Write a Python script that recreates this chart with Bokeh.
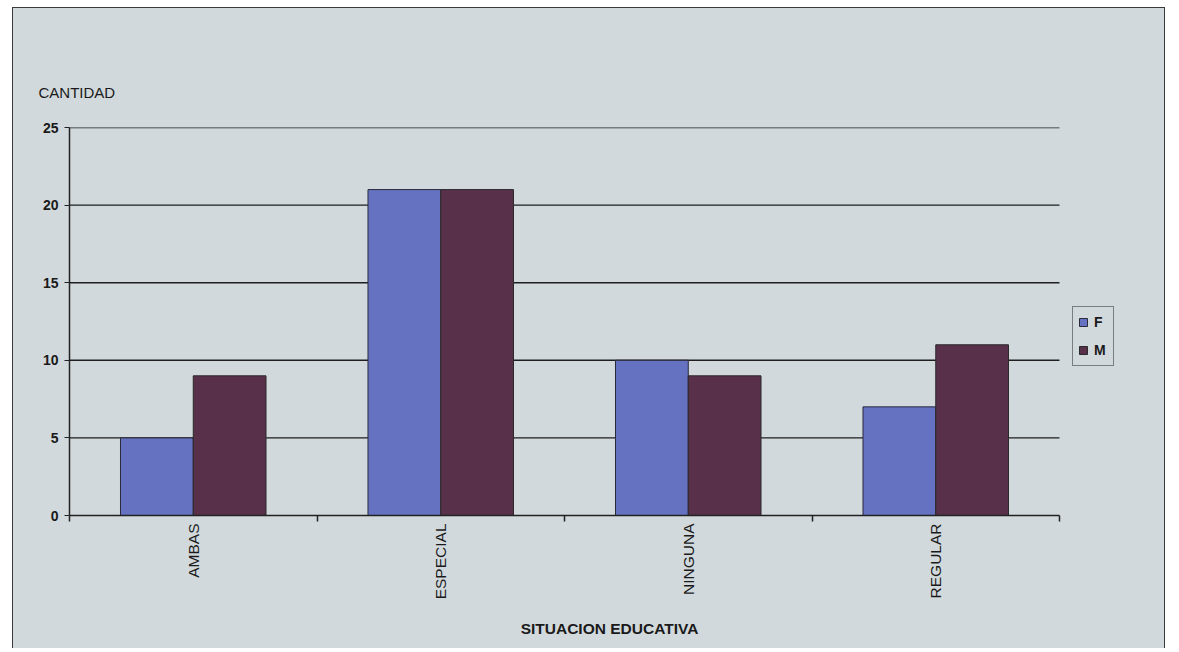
import math
from bokeh.plotting import figure
from bokeh.models import (Range1d, FixedTicker, Legend, LegendItem, ColumnDataSource)
from bokeh.embed import file_html
from bokeh.resources import INLINE

categories = ["AMBAS", "ESPECIAL", "NINGUNA", "REGULAR"]
f_values = [5, 21, 10, 7]
m_values = [9, 21, 9, 11]
y_ticks = [0, 5, 10, 15, 20, 25]

BG = "#d2d9dc"
F_COLOR = "#6572c2"
M_COLOR = "#58304a"
FONT = "Liberation Sans"
INK = "#1a1a1a"

n = len(categories)
idx = list(range(n))
src = ColumnDataSource(dict(
    xf=[i + 0.5 - 0.147 for i in idx],
    xm=[i + 0.5 + 0.147 for i in idx],
    f=f_values, m=m_values))
grid_src = ColumnDataSource(dict(y=y_ticks[1:]))

# the frame extends past the last category to leave room for the legend
x_end = n * (1080.0 / 990.0)

p = figure(width=1153, height=641, output_backend="svg", toolbar_location=None,
           x_range=Range1d(0, x_end), y_range=Range1d(0, 25),
           min_border_left=56, min_border_right=17, min_border_top=119,
           min_border_bottom=134)
p.background_fill_color = None
p.border_fill_color = BG
p.outline_line_color = None
p.styles = {"border-top": "1.5px solid #3a3a3a", "border-left": "1.5px solid #3a3a3a",
            "border-right": "1.5px solid #3a3a3a",
            "margin-left": "12px", "margin-top": "7px",
            "background-color": BG}

p.xgrid.grid_line_color = None
p.ygrid.grid_line_color = None
p.segment(x0=0, x1=n, y0="y", y1="y", source=grid_src,
          line_color="#1e1e1e", line_width=1.4)

rf = p.vbar(x="xf", top="f", width=0.294, source=src, fill_color=F_COLOR,
            line_color="#2a2a3a", line_width=1)
rm = p.vbar(x="xm", top="m", width=0.294, source=src, fill_color=M_COLOR,
            line_color="#2a2a2a", line_width=1)

# title used as the "CANTIDAD" heading
p.title.text = "CANTIDAD"
p.title.align = "left"
p.title.offset = -31
p.title.standoff = 54
p.title.text_font = FONT
p.title.text_font_style = "normal"
p.title.text_font_size = "15px"
p.title.text_color = INK

# y axis
p.yaxis.ticker = FixedTicker(ticks=y_ticks)
p.yaxis.major_label_text_font = FONT
p.yaxis.major_label_text_font_style = "bold"
p.yaxis.major_label_text_font_size = "14px"
p.yaxis.major_label_text_color = INK
p.yaxis.axis_line_color = "#222222"
p.yaxis.axis_line_width = 1.5
p.yaxis.major_tick_in = 0
p.yaxis.major_tick_out = 5
p.yaxis.major_tick_line_color = "#222222"
p.yaxis.minor_tick_line_color = None
p.yaxis.major_label_standoff = 6

# x axis
centers = [i + 0.5 for i in idx]
p.xaxis.bounds = (0, n)
p.xaxis.ticker = FixedTicker(ticks=centers, minor_ticks=list(range(n + 1)))
p.xaxis.major_label_overrides = {c: cat for c, cat in zip(centers, categories)}
p.xaxis.major_label_orientation = math.pi / 2
p.xaxis.major_label_text_font = FONT
p.xaxis.major_label_text_font_size = "15.5px"
p.xaxis.major_label_text_color = INK
p.xaxis.major_tick_line_color = None
p.xaxis.major_tick_out = 0
p.xaxis.major_tick_in = 0
p.xaxis.minor_tick_in = 0
p.xaxis.minor_tick_out = 6
p.xaxis.minor_tick_line_color = "#222222"
p.xaxis.minor_tick_line_width = 1.5
p.xaxis.axis_line_color = "#222222"
p.xaxis.axis_line_width = 1.5
p.xaxis.major_label_standoff = 2
p.xaxis.axis_label = "SITUACION EDUCATIVA"
p.xaxis.axis_label_text_font = FONT
p.xaxis.axis_label_text_font_style = "bold"
p.xaxis.axis_label_text_font_size = "15.5px"
p.xaxis.axis_label_text_color = INK
p.xaxis.axis_label_standoff = 18

legend = Legend(items=[LegendItem(label="F", renderers=[rf]),
                       LegendItem(label="M", renderers=[rm])],
                location=(1003, 149), orientation="vertical",
                padding=5, margin=0, spacing=8, label_height=20,
                glyph_width=10, glyph_height=10, label_width=14, label_standoff=6,
                border_line_color="#222222", border_line_width=1.2,
                background_fill_color=BG, background_fill_alpha=1,
                label_text_font=FONT, label_text_font_style="bold",
                label_text_font_size="14px", label_text_color=INK)
p.add_layout(legend, "center")

open("out.html", "w").write(file_html(p, INLINE))
